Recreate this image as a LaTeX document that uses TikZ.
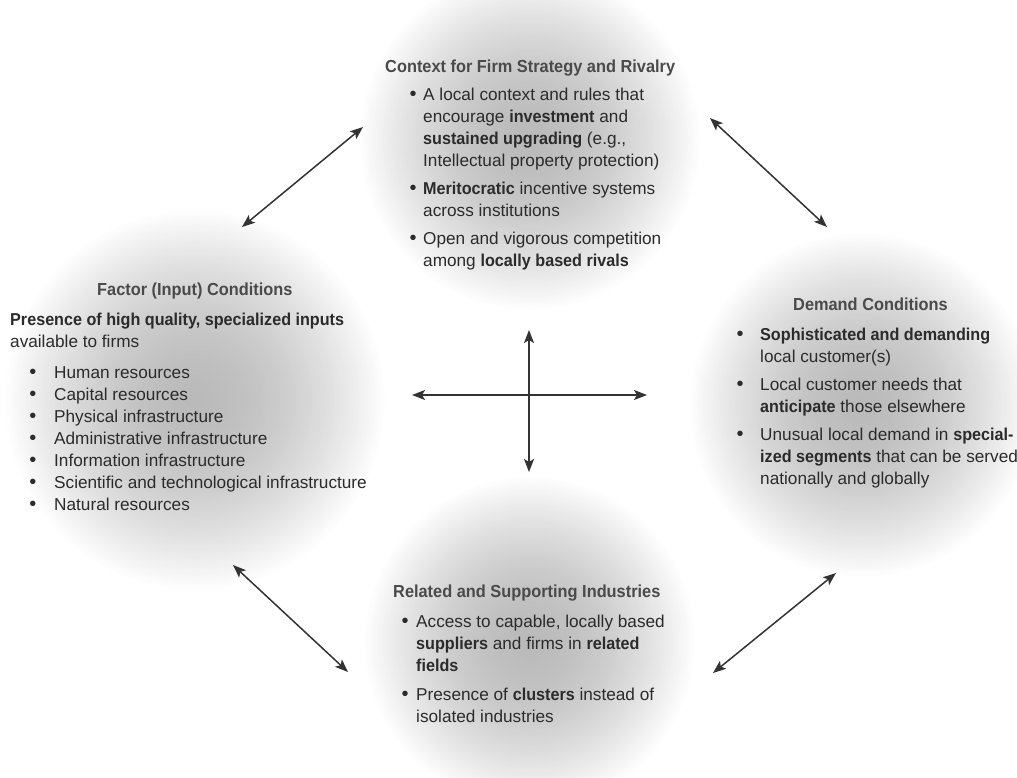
\documentclass[tikz,border=0pt]{standalone}
\usepackage{fontspec}
\setmainfont{Liberation Sans}[BoldFeatures={FakeStretch=0.94}]
\usetikzlibrary{arrows.meta}
\definecolor{bodyc}{HTML}{2B2B2B}
\definecolor{titlec}{HTML}{4A4A4A}
\definecolor{arrc}{HTML}{333333}
\newcommand\tblk[1]{\parbox[t]{420pt}{\raggedright #1}}
\newcommand\glowdisc[3]{% x, y, radius
  \foreach \i in {0,...,69}{%
    \pgfmathsetmacro\tt{1-\i/70}%
    \pgfmathsetmacro\pp{27*(1-\tt^1.7)}%
    \fill[black!\pp] (#1,#2) circle ({\tt*#3});
  }%
}
\tikzset{
  txt/.style={anchor=base west, inner sep=0pt, text=bodyc, font=\fontsize{17.2}{22}\selectfont},
  ttl/.style={anchor=base west, inner sep=0pt, text=titlec, font=\fontsize{17.4}{22}\selectfont\bfseries},
  bul/.style={anchor=base, inner sep=0pt, text=bodyc, font=\fontsize{20}{22}\selectfont},
  arr/.style={draw=arrc, line width=1.5pt, {Stealth[length=13pt,width=10pt,inset=3pt]}-{Stealth[length=13pt,width=10pt,inset=3pt]}}
}
\begin{document}
\begin{tikzpicture}[x=1pt,y=-1pt]
\useasboundingbox (0,0) rectangle (1017,777);
\fill[white] (0,0) rectangle (1017,777);
% shaded discs
\glowdisc{530}{140}{172}
\glowdisc{195}{400}{192}
\glowdisc{862}{405}{174}
\glowdisc{530}{642}{167}

% top block
\node[ttl] (ttop) at (385,72) {Context for Firm Strategy and Rivalry};
\node[bul] (bt1) at (413,100) {\textbullet};
\node[txt] (it1) at (423,100) {\tblk{A local context and rules that\\ encourage \textbf{investment} and\\ \textbf{sustained upgrading} (e.g.,\\ Intellectual property protection)}};
\node[bul] (bt2) at (413,194) {\textbullet};
\node[txt] (it2) at (423,194) {\tblk{\textbf{Meritocratic} incentive systems\\ across institutions}};
\node[bul] (bt3) at (413,244) {\textbullet};
\node[txt] (it3) at (423,244) {\tblk{Open and vigorous competition\\ among \textbf{locally based rivals}}};

% left block
\node[ttl] (tleft) at (97,295) {Factor (Input) Conditions};
\node[txt] (il0) at (10,325) {\tblk{\textbf{Presence of high quality, specialized inputs}\\ available to firms}};
\foreach \yy/\nm in {378/1,400/2,422/3,444/4,466/5,488/6,510/7}
  \node[bul] (bl\nm) at (33,\yy) {\textbullet};
\node[txt] (il1) at (54,378) {\tblk{Human resources\\ Capital resources\\ Physical infrastructure\\ Administrative infrastructure\\ Information infrastructure\\ Scientific and technological infrastructure\\ Natural resources}};

% right block
\node[ttl] (tright) at (793,310) {Demand Conditions};
\node[bul] (br1) at (740,340) {\textbullet};
\node[txt] (ir1) at (760,340) {\tblk{\textbf{Sophisticated and demanding}\\ local customer(s)}};
\node[bul] (br2) at (740,390) {\textbullet};
\node[txt] (ir2) at (760,390) {\tblk{Local customer needs that\\ \textbf{anticipate} those elsewhere}};
\node[bul] (br3) at (740,440) {\textbullet};
\node[txt] (ir3) at (760,440) {\tblk{Unusual local demand in \textbf{special-}\\ \textbf{ized segments} that can be served\\ nationally and globally}};

% bottom block
\node[ttl] (tbot) at (393,597) {Related and Supporting Industries};
\node[bul] (bb1) at (405,627) {\textbullet};
\node[txt] (ib1) at (416,627) {\tblk{Access to capable, locally based\\ \textbf{suppliers} and firms in \textbf{related}\\ \textbf{fields}}};
\node[bul] (bb2) at (405,700) {\textbullet};
\node[txt] (ib2) at (416,700) {\tblk{Presence of \textbf{clusters} instead of\\ isolated industries}};

% arrow end points
\coordinate (a1) at (242,227); \coordinate (a2) at (363,127);
\coordinate (b1) at (710,118); \coordinate (b2) at (827,227);
\coordinate (c1) at (233,565); \coordinate (c2) at (348,672);
\coordinate (d1) at (713,673); \coordinate (d2) at (836,573);
\coordinate (v1) at (529,330); \coordinate (v2) at (529,472);
\coordinate (h1) at (412,395); \coordinate (h2) at (647,395);
\draw[arr] (a1) -- (a2);
\draw[arr] (b1) -- (b2);
\draw[arr] (c1) -- (c2);
\draw[arr] (d1) -- (d2);
\draw[arr] (v1) -- (v2);
\draw[arr] (h1) -- (h2);
\end{tikzpicture}
\end{document}
